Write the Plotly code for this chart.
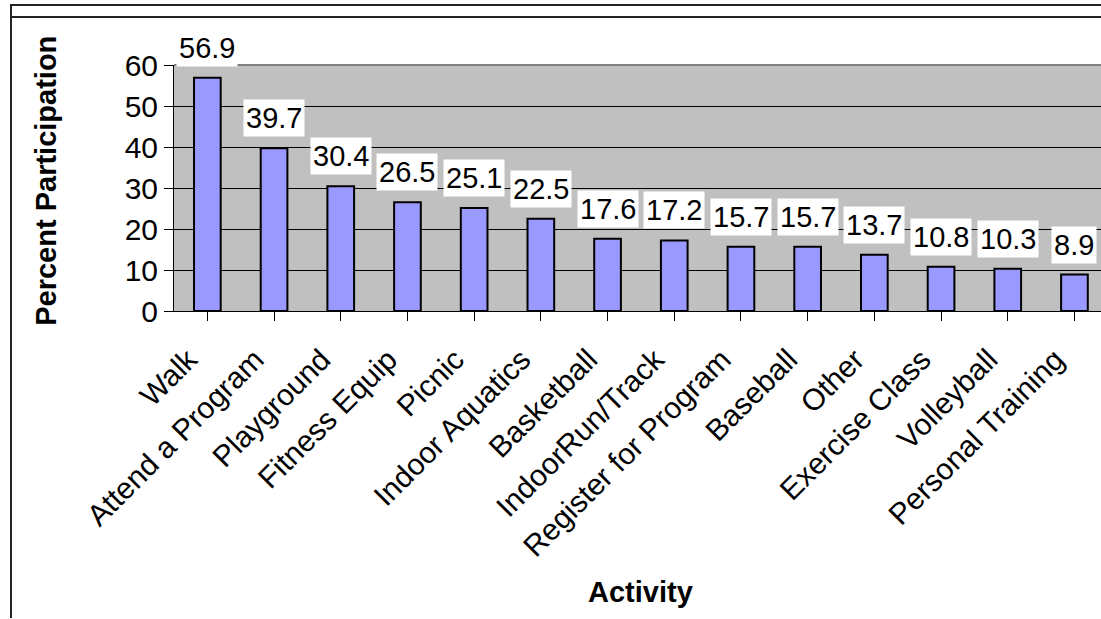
import plotly.graph_objects as go

categories = ["Walk", "Attend a Program", "Playground", "Fitness Equip", "Picnic",
              "Indoor Aquatics", "Basketball", "IndoorRun/Track", "Register for Program",
              "Baseball", "Other", "Exercise Class", "Volleyball", "Personal Training"]
values = [56.9, 39.7, 30.4, 26.5, 25.1, 22.5, 17.6, 17.2, 15.7, 15.7, 13.7, 10.8, 10.3, 8.9]
y_ticks = [0, 10, 20, 30, 40, 50, 60]

FONT = "Arial, 'Liberation Sans', sans-serif"

fig = go.Figure()
fig.add_trace(go.Bar(
    x=list(range(len(categories))), y=values, width=0.4,
    marker=dict(color="#9999FF", line=dict(color="black", width=2)),
    hoverinfo="skip",
))

for i, v in enumerate(values):
    fig.add_annotation(x=i, y=v, text=f"{v}", showarrow=False, yshift=30,
                       xanchor="center", yanchor="middle", bgcolor="white",
                       borderpad=2, font=dict(family=FONT, size=29, color="black"))

fig.add_annotation(xref="paper", yref="paper", x=-0.139, y=0.53, text="<b>Percent Participation</b>",
                   textangle=-90, showarrow=False, xanchor="center", yanchor="middle",
                   font=dict(family=FONT, size=29, color="black"))
fig.add_annotation(xref="paper", yref="paper", x=0.503, y=-1.142, text="<b>Activity</b>",
                   showarrow=False, xanchor="center", yanchor="middle",
                   font=dict(family=FONT, size=29, color="black"))

# outer frame lines
fig.add_shape(type="line", xref="paper", yref="paper", x0=(10-174)/927, x1=1.0,
              y0=(311.5-5)/246.5, y1=(311.5-5)/246.5, line=dict(color="#222", width=2))
fig.add_shape(type="line", xref="paper", yref="paper", x0=(11-174)/927, x1=1.0,
              y0=(311.5-17)/246.5, y1=(311.5-17)/246.5, line=dict(color="#222", width=2))
fig.add_shape(type="line", xref="paper", yref="paper", x0=(11-174)/927, x1=(11-174)/927,
              y0=(311.5-5)/246.5, y1=(311.5-619)/246.5, line=dict(color="#222", width=2))
# plot area top border
fig.add_shape(type="line", xref="paper", yref="paper", x0=0, x1=1, y0=1, y1=1,
              line=dict(color="#808080", width=2))

fig.update_layout(
    width=1101, height=619,
    margin=dict(l=174, r=0, t=65, b=307.5),
    paper_bgcolor="white", plot_bgcolor="#C0C0C0",
    showlegend=False, bargap=0.6,
    font=dict(family=FONT, color="black"),
)
fig.update_xaxes(
    range=[-0.5, -0.5 + 927/66.7],
    tickmode="array", tickvals=list(range(len(categories))), ticktext=categories,
    tickangle=-45, tickfont=dict(family=FONT, size=30, color="black"),
    ticks="outside", ticklen=9, tickcolor="black", tickson="boundaries",
    ticklabelstandoff=9, ticklabelshift=-19,
    showline=True, linecolor="black", linewidth=1, showgrid=False, zeroline=False,
)
fig.update_yaxes(
    range=[0, 60], tickmode="array", tickvals=y_ticks,
    tickfont=dict(family=FONT, size=30, color="black"),
    ticks="outside", ticklen=9, tickcolor="black",
    showline=True, linecolor="black", linewidth=1,
    showgrid=True, gridcolor="black", gridwidth=1, zeroline=False,
)

fig.write_html("out.html")
